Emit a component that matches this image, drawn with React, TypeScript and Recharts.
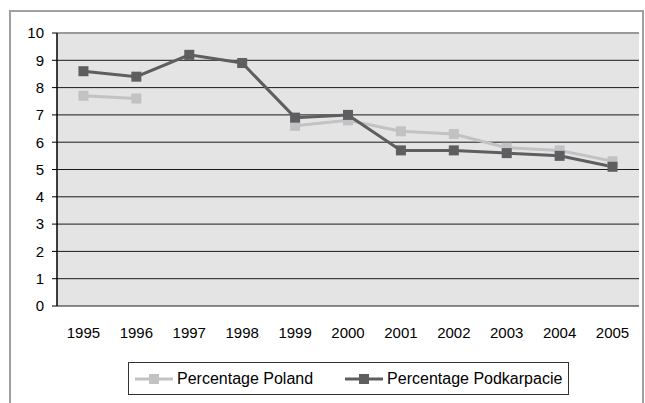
import React from 'react';
import { LineChart, Line, XAxis, YAxis, CartesianGrid, ReferenceLine } from 'recharts';

// years on the category axis
const years = ['1995', '1996', '1997', '1998', '1999', '2000', '2001', '2002', '2003', '2004', '2005'];
// unemployment share, % (Poland has no values for 1997-1998)
const poland: (number | null)[] = [7.7, 7.6, null, null, 6.6, 6.8, 6.4, 6.3, 5.8, 5.7, 5.3];
const podkarpacie: (number | null)[] = [8.6, 8.4, 9.2, 8.9, 6.9, 7.0, 5.7, 5.7, 5.6, 5.5, 5.1];
const yTicks = [0, 1, 2, 3, 4, 5, 6, 7, 8, 9, 10];
// band edges for the excel-like tick marks between categories
const bandEdges = [0, 1, 2, 3, 4, 5, 6, 7, 8, 9, 10, 11];

const LIGHT = '#c2c2c4';
const DARK = '#5e5e60';
const FONT = '"Liberation Sans", Arial, sans-serif';

const data = years.map((year, i) => ({ year, poland: poland[i], podkarpacie: podkarpacie[i] }));

// square marker like the original spreadsheet chart
function squareDot(color: string) {
  return (props: any) => {
    const { cx, cy, index } = props;
    if (cx == null || cy == null || props.value == null) return <g key={`n-${index}`} />;
    return <rect key={`d-${index}`} x={cx - 5} y={cy - 5} width={10} height={10} fill={color} />;
  };
}

function LegendIcon({ color }: { color: string }) {
  return (
    <svg width={38} height={12} style={{ marginRight: 4 }}>
      <line x1={0} y1={6} x2={38} y2={6} stroke={color} strokeWidth={3} />
      <rect x={14} y={1} width={10} height={10} fill={color} />
    </svg>
  );
}

export default function App() {
  return (
    <div style={{ position: 'absolute', left: 0, top: 0, width: 645, height: 403, background: '#fff', fontFamily: FONT, overflow: 'hidden' }}>
      {/* outer chart frame */}
      <div style={{ position: 'absolute', left: 9, top: 10, width: 635, height: 400, border: '2px solid #a0a0a0', boxSizing: 'border-box' }} />

      <div style={{ position: 'absolute', left: 0, top: 0 }}>
        <LineChart width={645} height={403} data={data} margin={{ top: 33, right: 6, left: 0, bottom: 67 }}>
          <CartesianGrid xAxisId="c" vertical={false} stroke="#1a1a1a" strokeWidth={1} fill="#e4e4e5" />
          <XAxis
            xAxisId="b"
            type="number"
            domain={[0, 11]}
            ticks={bandEdges}
            height={0}
            tick={() => <g />}
            tickSize={6}
            tickLine={{ stroke: '#000' }}
            axisLine={{ stroke: '#000', strokeWidth: 1.5 }}
          />
          <XAxis
            xAxisId="c"
            dataKey="year"
            scale="band"
            height={30}
            tickLine={false}
            axisLine={false}
            tickSize={0}
            tickMargin={21}
            interval={0}
            tick={{ fill: '#000', fontSize: 15, fontFamily: FONT }}
          />
          <YAxis
            domain={[0, 10]}
            ticks={yTicks}
            width={57}
            tickSize={5}
            tickMargin={8}
            interval={0}
            tickLine={{ stroke: '#000' }}
            axisLine={{ stroke: '#000', strokeWidth: 1.5 }}
            tick={{ fill: '#000', fontSize: 15, fontFamily: FONT }}
          />
          <ReferenceLine y={10} stroke="#9a9a9a" strokeWidth={2} xAxisId="b" />
          <ReferenceLine x={11} stroke="#9a9a9a" strokeWidth={2} xAxisId="b" />
          <Line
            xAxisId="c"
            dataKey="poland"
            name="Percentage Poland"
            stroke={LIGHT}
            strokeWidth={3}
            dot={squareDot(LIGHT)}
            activeDot={false}
            isAnimationActive={false}
          />
          <Line
            xAxisId="c"
            dataKey="podkarpacie"
            name="Percentage Podkarpacie"
            stroke={DARK}
            strokeWidth={3}
            dot={squareDot(DARK)}
            activeDot={false}
            isAnimationActive={false}
          />
        </LineChart>
      </div>

      {/* legend */}
      <div
        style={{
          position: 'absolute',
          left: 128,
          top: 362,
          width: 441,
          height: 33,
          border: '1px solid #333',
          boxSizing: 'border-box',
          display: 'flex',
          alignItems: 'center',
          fontSize: 16,
          color: '#000',
        }}
      >
        <div style={{ display: 'flex', alignItems: 'center', marginLeft: 6 }}>
          <LegendIcon color={LIGHT} />
          <span>Percentage Poland</span>
        </div>
        <div style={{ display: 'flex', alignItems: 'center', marginLeft: 32 }}>
          <LegendIcon color={DARK} />
          <span>Percentage Podkarpacie</span>
        </div>
      </div>
    </div>
  );
}
